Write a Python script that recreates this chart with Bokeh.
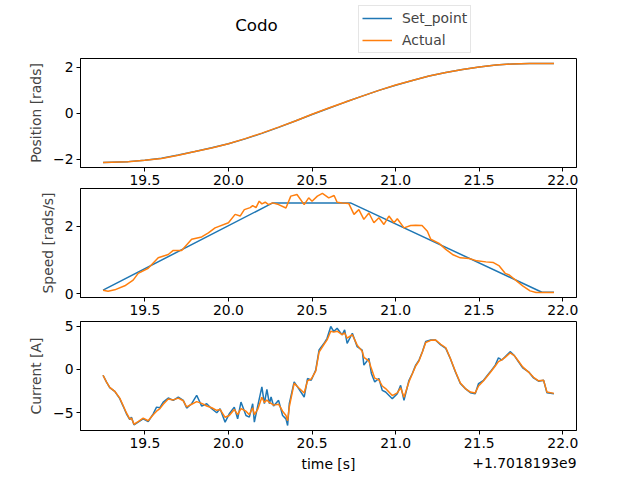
import numpy as np
from bokeh.plotting import figure
from bokeh.layouts import column
from bokeh.models import (Range1d, FixedTicker, CustomJSTickFormatter, Legend,
                          LegendItem, Label)
from bokeh.embed import file_html
from bokeh.resources import INLINE

# ---------------- data (time offset from 1.7018193e9 s) ----------------
t_pos = [19.25, 19.4, 19.5, 19.6, 19.7, 19.8, 19.9, 20.0, 20.1, 20.2, 20.3,
         20.4, 20.5, 20.6, 20.7, 20.8, 20.9, 21.0, 21.1, 21.2, 21.3, 21.4,
         21.5, 21.6, 21.7, 21.8, 21.947]
pos_set = [-2.14, -2.10, -2.04, -1.95, -1.81, -1.66, -1.50, -1.32, -1.11,
           -0.87, -0.61, -0.33, -0.05, 0.22, 0.49, 0.75, 1.00, 1.22, 1.43,
           1.62, 1.78, 1.91, 2.02, 2.10, 2.15, 2.17, 2.17]
pos_act = [-2.14, -2.11, -2.04, -1.96, -1.82, -1.66, -1.51, -1.32, -1.10,
           -0.86, -0.60, -0.33, -0.04, 0.23, 0.49, 0.75, 1.00, 1.23, 1.43,
           1.62, 1.78, 1.91, 2.02, 2.10, 2.15, 2.17, 2.17]

t_spd_set = [19.25, 20.265, 20.73, 21.875, 21.947]
spd_set = [0.10, 2.69, 2.69, 0.04, 0.04]

t_spd_act = [19.25, 19.28, 19.32, 19.38, 19.43, 19.46, 19.52, 19.58, 19.64,
             19.67, 19.72, 19.78, 19.84, 19.88, 19.92, 20.00, 20.04, 20.07,
             20.095, 20.13, 20.145, 20.165, 20.184, 20.20, 20.22, 20.24,
             20.264, 20.30, 20.344, 20.373, 20.41, 20.453, 20.48, 20.50,
             20.532, 20.562, 20.60, 20.632, 20.65, 20.68, 20.72, 20.751,
             20.78, 20.81, 20.84, 20.87, 20.90, 20.93, 20.96, 20.99, 21.01,
             21.05, 21.09, 21.12, 21.158, 21.19, 21.21, 21.26, 21.30, 21.34,
             21.387, 21.44, 21.486, 21.54, 21.585, 21.62, 21.655, 21.68,
             21.725, 21.76, 21.804, 21.84, 21.88, 21.947]
spd_act = [0.10, 0.07, 0.11, 0.23, 0.40, 0.60, 0.75, 1.06, 1.16,
           1.28, 1.28, 1.61, 1.68, 1.80, 1.95, 2.10, 2.35, 2.30,
           2.49, 2.55, 2.61, 2.55, 2.74, 2.66, 2.71, 2.64,
           2.69, 2.64, 2.54, 2.89, 2.94, 2.64, 2.84, 2.74,
           2.89, 2.97, 2.84, 2.91, 2.71, 2.69, 2.67, 2.35,
           2.49, 2.20, 2.39, 2.10, 2.25, 2.05, 2.30, 2.10, 2.22,
           1.95, 2.02, 2.03, 2.02, 1.85, 1.61, 1.49, 1.31, 1.16,
           1.06, 1.04, 0.97, 0.94, 0.92, 0.82, 0.60, 0.55,
           0.37, 0.23, 0.08, 0.03, 0.03, 0.03]

t_cur = [19.25, 19.27, 19.29, 19.32, 19.35, 19.37, 19.39, 19.41, 19.42, 19.435,
         19.46, 19.49, 19.52, 19.55, 19.57, 19.59, 19.61, 19.64, 19.67, 19.70,
         19.73, 19.75, 19.78, 19.81, 19.84, 19.87, 19.90, 19.93, 19.95, 19.98,
         20.005, 20.035, 20.055, 20.075, 20.105, 20.125, 20.145, 20.155, 20.175,
         20.20, 20.215, 20.23, 20.245, 20.255, 20.27, 20.30, 20.324, 20.344,
         20.354, 20.364, 20.393, 20.42, 20.453, 20.473, 20.495, 20.522, 20.542,
         20.572, 20.59, 20.612, 20.63, 20.65, 20.68, 20.695, 20.71, 20.741,
         20.77, 20.80, 20.81, 20.84, 20.855, 20.875, 20.90, 20.92, 20.94,
         20.98, 21.01, 21.03, 21.05, 21.08, 21.10, 21.12, 21.14, 21.16, 21.18,
         21.21, 21.238, 21.27, 21.30, 21.327, 21.357, 21.387, 21.417, 21.447,
         21.476, 21.496, 21.526, 21.566, 21.596, 21.615, 21.635, 21.655,
         21.685, 21.71, 21.735, 21.76, 21.795, 21.825, 21.855, 21.885,
         21.905, 21.947]
cur_set = [-0.66, -1.43, -2.09, -2.51, -3.36, -4.21, -5.10, -5.76, -5.50, -6.37,
           -6.06, -5.68, -5.99, -5.10, -4.33, -4.40, -3.75, -3.28, -3.55, -3.17,
           -3.55, -4.44, -3.94, -2.97, -4.21, -3.94, -4.52, -4.98, -4.52, -6.06,
           -5.10, -4.33, -5.68, -3.75, -5.30, -5.48, -3.94, -6.06, -4.21,
           -2.01, -3.94, -2.28, -3.94, -3.17, -4.21, -3.55, -5.29, -5.68,
           -6.45, -3.94, -1.43, -2.21, -3.17, -1.04, -1.24, -0.08, 2.24,
           3.01, 3.59, 4.95, 4.37, 4.75, 3.98, 4.56, 3.00, 4.17,
           2.63, 2.24, 0.50, 1.27, -0.46, -1.43, -1.04, -2.40, -2.59,
           -3.36, -2.78, -1.82, -3.55, -1.24, -0.46, 0.50, 1.08, 2.05, 3.21,
           3.40, 3.40, 2.82, 2.43, 1.27, -0.27, -1.62, -2.20, -2.67,
           -2.78, -1.62, -1.24, -0.27, 0.50, 1.35, 1.08, 1.47,
           2.05, 1.59, 0.89, 0.19, -0.27, -0.97, -1.35, -1.24,
           -2.67, -2.78]
cur_act = [-0.66, -1.43, -2.05, -2.51, -3.30, -4.15, -5.00, -5.70, -5.60, -6.30,
           -6.00, -5.60, -5.90, -5.20, -4.80, -4.50, -4.00, -3.40, -3.50, -3.30,
           -3.60, -4.30, -4.00, -3.70, -3.90, -4.20, -4.40, -4.70, -4.60, -5.50,
           -5.30, -4.60, -5.20, -4.50, -4.80, -5.20, -4.40, -5.20, -4.60,
           -3.20, -3.80, -3.50, -3.80, -3.90, -4.10, -4.00, -4.80, -5.30,
           -5.90, -4.30, -1.60, -2.10, -2.70, -1.30, -1.10, -0.20, 2.00,
           2.90, 3.40, 4.40, 4.30, 4.40, 4.00, 4.20, 3.60, 4.00,
           2.80, 2.10, 1.40, 1.00, 0.10, -1.00, -1.20, -1.90, -2.20,
           -3.00, -2.70, -2.10, -3.20, -1.40, -0.50, 0.40, 1.00, 2.00, 3.10,
           3.35, 3.40, 2.90, 2.50, 1.30, -0.20, -1.55, -2.20, -2.60,
           -2.70, -1.90, -1.30, -0.35, 0.40, 0.90, 1.10, 1.40,
           1.90, 1.60, 0.95, 0.30, -0.30, -0.90, -1.30, -1.25,
           -2.60, -2.75]

x_ticks = [19.5, 20.0, 20.5, 21.0, 21.5, 22.0]
pos_ticks = [-2, 0, 2]
spd_ticks = [0, 2]
cur_ticks = [-5, 0, 5]
series_names = ["Set_point", "Actual"]
title_text = "Codo"
x_label = "time [s]"
x_offset_text = "+1.7018193e9"

BLUE = "#1f77b4"
ORANGE = "#ff7f0e"
FONT = "DejaVu Sans"
FS = "13.9px"


def padded(*arrays):
    allv = np.concatenate([np.asarray(a, dtype=float) for a in arrays])
    lo, hi = allv.min(), allv.max()
    m = 0.05 * (hi - lo)
    return Range1d(lo - m, hi + m)


x_range = padded(t_pos, t_spd_set, t_spd_act, t_cur)

yfmt = CustomJSTickFormatter(code="return (tick < 0 ? '\\u2212' : '') + Math.abs(tick).toFixed(0);")
xfmt = CustomJSTickFormatter(code="return tick.toFixed(1);")


def strip(height):
    # a plain panel whose frame lines up with the axes frames (x: 80..576 px)
    p = figure(frame_width=496, frame_height=height, x_range=Range1d(80, 576),
               y_range=Range1d(0, height), x_axis_type=None, y_axis_type=None,
               output_backend="svg", toolbar_location=None,
               min_border_left=80, min_border_right=64,
               min_border_top=0, min_border_bottom=0)
    p.grid.visible = False
    p.outline_line_color = None
    p.background_fill_color = "white"
    p.border_fill_color = "white"
    return p


def make_fig(top, bottom, y_range, yticks, ylabel):
    p = figure(frame_width=496, frame_height=109, x_range=x_range, y_range=y_range,
               output_backend="svg", toolbar_location=None,
               min_border_left=80, min_border_right=64,
               min_border_top=top, min_border_bottom=bottom)
    p.grid.visible = False
    p.outline_line_color = "black"
    p.outline_line_width = 1
    p.background_fill_color = "white"
    p.border_fill_color = "white"
    for ax, ticks, fmt in ((p.xaxis[0], x_ticks, xfmt), (p.yaxis[0], yticks, yfmt)):
        ax.ticker = FixedTicker(ticks=ticks)
        ax.formatter = fmt
        ax.minor_tick_line_color = None
        ax.major_tick_in = 0
        ax.major_tick_out = 4
        ax.major_tick_line_width = 1
        ax.major_label_text_font = FONT
        ax.major_label_text_font_size = FS
        ax.major_label_text_color = "black"
        ax.axis_line_color = "black"
        ax.major_label_standoff = 3
    p.yaxis.axis_label = ylabel
    p.yaxis.axis_label_text_font = FONT
    p.yaxis.axis_label_text_font_size = FS
    p.yaxis.axis_label_text_font_style = "normal"
    p.yaxis.axis_label_standoff = 6
    return p


# --- top strip: title + legend ---
p0 = strip(54)
# legend proxies, drawn outside the visible range of the strip
d_set = p0.line([0, 1], [-100, -100], line_color=BLUE, line_width=1.5)
d_act = p0.line([0, 1], [-100, -100], line_color=ORANGE, line_width=1.5)
p0.add_layout(Label(x=256, y=30, text=title_text, text_align="center",
                    text_baseline="middle", text_font=FONT,
                    text_font_size="16.7px", text_color="black"))
legend = Legend(items=[LegendItem(label=series_names[0], renderers=[d_set]),
                       LegendItem(label=series_names[1], renderers=[d_act])],
                location=(278, 1))
legend.label_text_font = FONT
legend.label_text_font_size = FS
legend.glyph_width = 30
legend.glyph_height = 16
legend.label_height = 18
legend.label_standoff = 10
legend.spacing = 4
legend.padding = 3
legend.margin = 0
legend.border_line_color = "#cccccc"
legend.border_line_width = 1
legend.background_fill_alpha = 0.8
p0.add_layout(legend)

p1 = make_fig(4, 21, padded(pos_set, pos_act), pos_ticks, "Position [rads]")
p1.line(t_pos, pos_set, line_color=BLUE, line_width=1.5)
p1.line(t_pos, pos_act, line_color=ORANGE, line_width=1.5)

p2 = make_fig(0, 17, padded(spd_set, spd_act), spd_ticks, "Speed [rads/s]")
p2.line(t_spd_set, spd_set, line_color=BLUE, line_width=1.5)
p2.line(t_spd_act, spd_act, line_color=ORANGE, line_width=1.5)

p3 = make_fig(4, 21, padded(cur_set, cur_act), cur_ticks, "Current [A]")
p3.line(t_cur, cur_set, line_color=BLUE, line_width=1.5)
p3.line(t_cur, cur_act, line_color=ORANGE, line_width=1.5)

# --- bottom strip: x label + offset text ---
p4 = strip(32)
p4.add_layout(Label(x=328, y=20, text=x_label, text_align="center",
                    text_baseline="middle", text_font=FONT, text_font_size=FS,
                    text_color="black"))
p4.add_layout(Label(x=576, y=21, text=x_offset_text, text_align="right",
                    text_baseline="middle", text_font=FONT, text_font_size=FS,
                    text_color="black"))

layout = column(p0, p1, p2, p3, p4, spacing=0)
open("out.html", "w").write(file_html(layout, INLINE))
